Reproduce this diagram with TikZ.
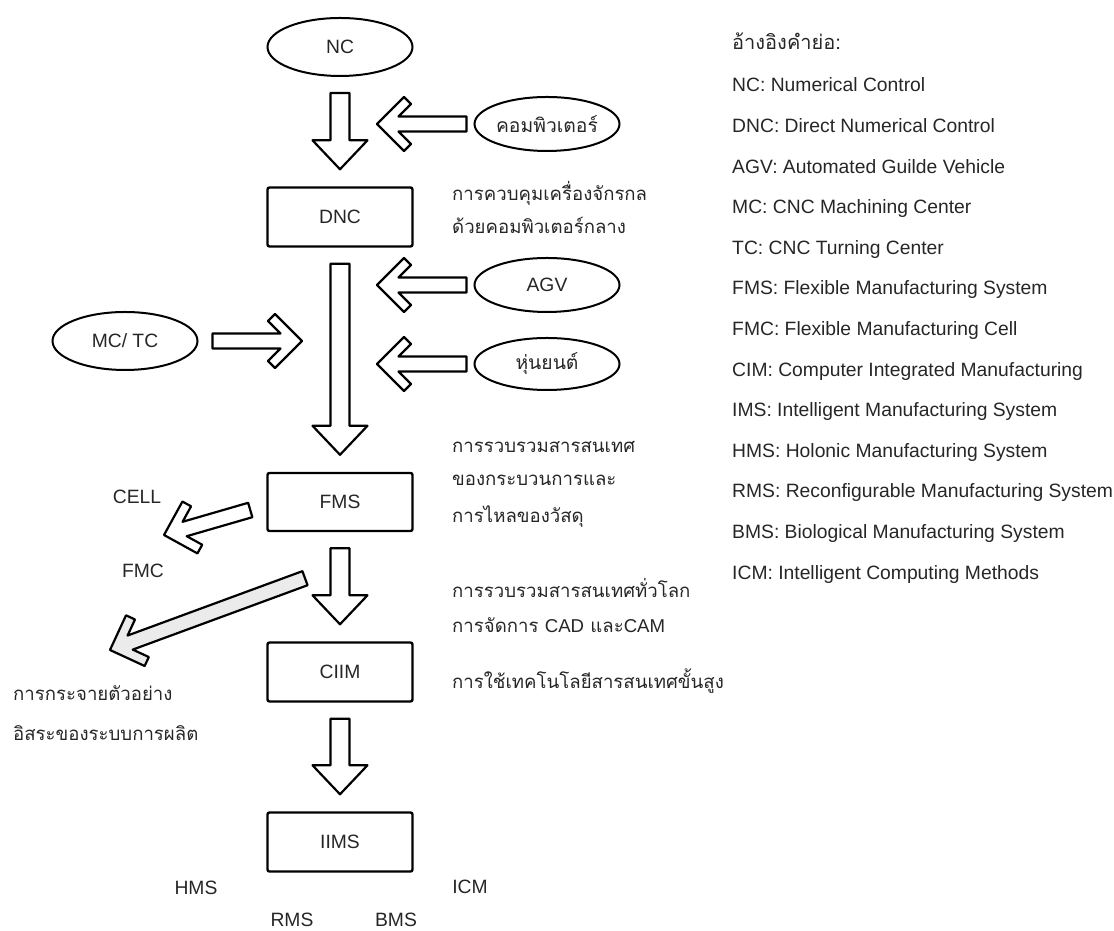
\documentclass[tikz,border=0pt]{standalone}
\usepackage{fontspec}
\setmainfont{Liberation Sans}
\newfontfamily\thaifont[Script=Thai]{Loma}
\usepackage{tikz}
\usetikzlibrary{calc,positioning,shapes.geometric}
\tikzset{
  flow box/.style={draw, line width=2.4pt, rounded corners=2pt,
    minimum width=145pt, minimum height=59pt, inner sep=0pt},
  flow oval/.style={draw, ellipse, line width=2pt,
    minimum width=145pt, minimum height=#1, inner sep=0pt},
  flow oval/.default=56pt,
  block arrow/.style={draw, line width=2.2pt, line join=round, fill=white},
  side text/.style={anchor=base west, inner sep=0pt,
    font=\thaifont\fontsize{18.6}{22}\selectfont},
  abbr/.style={anchor=base, inner sep=0pt},
  abbr west/.style={anchor=base west, inner sep=0pt},
}
\newcommand{\downblock}[2]{%
  \draw[block arrow] let \p1=(#1.south), \p2=(#2.north) in
    (\x1-9.5pt,\y1-16pt) -- (\x1-9.5pt,\y2+46pt) -- (\x1-27.5pt,\y2+46pt) -- (\x1,\y2+17pt)
    -- (\x1+27.5pt,\y2+46pt) -- (\x1+9.5pt,\y2+46pt) -- (\x1+9.5pt,\y1-16pt) -- cycle;}
\newcommand{\chevron}[3][white]{%
  \draw[block arrow, fill=#1] let \p1=($(#3)-(#2)$), \n1={atan2(\y1,\x1)},
    \n2={veclen(\x1,\y1)} in [shift={(#3)}, rotate=\n1]
    (0,0) -- (-27,27) -- (-34,20) -- (-21.5,7.5) -- (-\n2,7.5) -- (-\n2,-7.5)
    -- (-21.5,-7.5) -- (-34,-20) -- (-27,-27) -- cycle;}

\begin{document}
\begin{tikzpicture}[x=1pt, y=1pt, font=\fontsize{19.3}{23}\selectfont, text=black!85]
    \useasboundingbox (0,0) rectangle (1114,931);

    \node[flow oval=58pt] (nc) at (340,884) {NC};
    \node[flow box] (dnc) at (340,714) {DNC};
    \node[flow box, minimum height=58pt] (fms) at (340,429) {FMS};
    \node[flow box] (ciim) at (340,259) {CIIM};
    \node[flow box] (iims) at (340,89) {IIMS};

    \node[flow oval=54pt] (comp) at (547,807) {\thaifont คอมพิวเตอร์};
    \node[flow oval=54pt] (agv) at (547,646) {AGV};
    \node[flow oval=52pt] (robot) at (547,567) {\thaifont หุ่นยนต์};
    \node[flow oval=58pt] (mctc) at (125,590) {MC/ TC};

    \downblock{nc}{dnc}
    \downblock{dnc}{fms}
    \downblock{fms}{ciim}
    \downblock{ciim}{iims}

    \coordinate (compTail) at ([xshift=-7pt]comp.west);
    \coordinate (compTip) at (377,807);
    \coordinate (agvTail) at ([xshift=-7pt]agv.west);
    \coordinate (agvTip) at (377,646);
    \coordinate (robotTail) at ([xshift=-7pt]robot.west);
    \coordinate (robotTip) at (377,567);
    \coordinate (mctcTail) at ([xshift=14pt]mctc.east);
    \coordinate (mctcTip) at (302,590);
    \coordinate (cellTail) at ([shift={(-16pt,-8pt)}]fms.west);
    \coordinate (cellTip) at (164,396);
    \coordinate (sprTail) at ([shift={(-35pt,-46pt)}]fms.south);
    \coordinate (sprTip) at (110,281);

    \chevron{compTail}{compTip}
    \chevron{agvTail}{agvTip}
    \chevron{robotTail}{robotTip}
    \chevron{mctcTail}{mctcTip}
    \chevron{cellTail}{cellTip}
    \chevron[black!8]{sprTail}{sprTip}

    \node[side text] (t1) at (452,730) {การควบคุมเครื่องจักรกล};
    \node[side text] (t2) at (452,697) {ด้วยคอมพิวเตอร์กลาง};
    \node[side text] (t3) at (452,478) {การรวบรวมสารสนเทศ};
    \node[side text] (t4) at (452,445) {ของกระบวนการและ};
    \node[side text] (t5) at (452,408) {การไหลของวัสดุ};
    \node[side text] (t6) at (452,333) {การรวบรวมสารสนเทศทั่วโลก};
    \node[side text] (t7) at (452,298) {การจัดการ {\fontspec{Liberation Sans}CAD} และ{\fontspec{Liberation Sans}CAM}};
    \node[side text] (t8) at (452,242) {การใช้เทคโนโลยีสารสนเทศขั้นสูง};
    \node[side text] (t9) at (13,230) {การกระจายตัวอย่าง};
    \node[side text] (t10) at (13,190) {อิสระของระบบการผลิต};

    \node[abbr] (cell) at (137,427) {CELL};
    \node[abbr] (fmc) at (143,353) {FMC};
    \node[abbr] (hms) at (196,36) {HMS};
    \node[abbr] (icm) at (470,37) {ICM};
    \node[abbr] (rms) at (292,4) {RMS};
    \node[abbr] (bms) at (396,4) {BMS};

    \node[abbr west, font=\thaifont\fontsize{20}{24}\selectfont] (leghead) at (732,881) {อ้างอิงคำย่อ:};
    \foreach \txt [count=\i from 0] in {NC: Numerical Control, DNC: Direct Numerical Control,
        AGV: Automated Guilde Vehicle, MC: CNC Machining Center, TC: CNC Turning Center,
        FMS: Flexible Manufacturing System, FMC: Flexible Manufacturing Cell,
        CIM: Computer Integrated Manufacturing, IMS: Intelligent Manufacturing System,
        HMS: Holonic Manufacturing System, RMS: Reconfigurable Manufacturing System,
        BMS: Biological Manufacturing System, ICM: Intelligent Computing Methods}
      \node[abbr west] (leg\i) at (732,{839-40.6*\i}) {\txt};
\end{tikzpicture}
\end{document}
